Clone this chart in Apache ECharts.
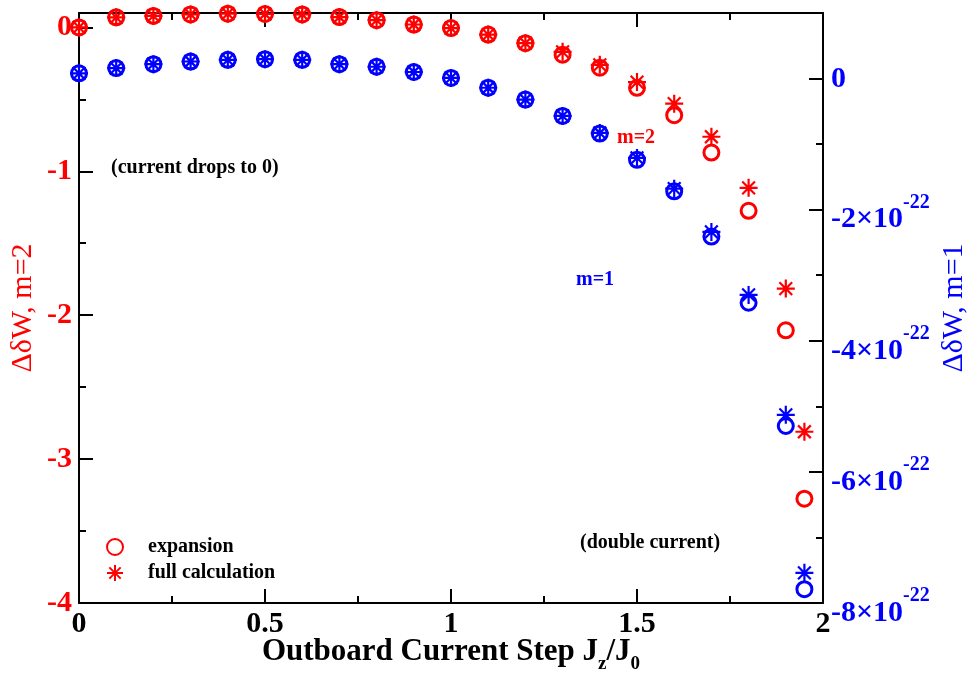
<!DOCTYPE html>
<html>
<head>
<meta charset="utf-8">
<script src="https://cdn.jsdelivr.net/npm/echarts@6/dist/echarts.min.js"></script>
<style>html,body{margin:0;padding:0;background:#fff;}#c{width:969px;height:673px;}</style>
</head>
<body>
<div id="c"></div>
<script>
// Outboard current step Jz/J0
var xSteps = [0, 0.1, 0.2, 0.3, 0.4, 0.5, 0.6, 0.7, 0.8, 0.9, 1.0, 1.1, 1.2, 1.3, 1.4, 1.5, 1.6, 1.7, 1.8, 1.9, 1.95];
// m=2 (left axis)
var m2Expansion = [0.0, 0.07, 0.08, 0.09, 0.095, 0.093, 0.09, 0.072, 0.05, 0.02, -0.005, -0.05, -0.11, -0.19, -0.28, -0.42, -0.61, -0.87, -1.275, -2.105, -3.275];
var m2Full = [0.0, 0.07, 0.08, 0.09, 0.095, 0.093, 0.09, 0.072, 0.05, 0.02, -0.005, -0.05, -0.11, -0.17, -0.26, -0.38, -0.53, -0.76, -1.115, -1.815, -2.81];
// m=1 (right axis), in units of 1e-22
var m1Expansion = [0.08, 0.16, 0.22, 0.26, 0.285, 0.295, 0.285, 0.22, 0.18, 0.10, 0.01, -0.14, -0.32, -0.57, -0.84, -1.24, -1.72, -2.41, -3.42, -5.30, -7.79];
var m1Full = [0.08, 0.16, 0.22, 0.26, 0.285, 0.295, 0.285, 0.22, 0.18, 0.10, 0.01, -0.14, -0.32, -0.57, -0.83, -1.21, -1.68, -2.34, -3.30, -5.13, -7.54];
var xTickLabels = ['0', '0.5', '1', '1.5', '2'];

var F = '"Liberation Serif", "Times New Roman", serif';
var RED = '#ff0000', BLUE = '#0000ff';
var STAR = 'path://M8,0L8,16M0,8L16,8M2.34,2.34L13.66,13.66M13.66,2.34L2.34,13.66';

function pairs(ys) { return xSteps.map(function (x, i) { return [x, ys[i]]; }); }

var chart = echarts.init(document.getElementById('c'), null, {renderer: 'canvas'});
var axisLine = {show: true, onZero: false, lineStyle: {color: '#000', width: 2}};
var noLine = {show: false, onZero: false};
var option = {
  animation: false,
  backgroundColor: '#fff',
  grid: {left: 79, right: 146, top: 13, bottom: 70, containLabel: false, outerBoundsMode: 'none'},
  legend: {
    data: ['expansion', 'full calculation'],
    orient: 'vertical', left: 101, top: 532,
    itemWidth: 16, itemHeight: 16, itemGap: 6,
    textStyle: {fontFamily: F, fontWeight: 'bold', fontSize: 20, color: '#000', padding: [0, 0, 0, 20]}
  },
  xAxis: [{
    type: 'value', min: 0, max: 2, interval: 0.5, position: 'bottom',
    axisLine: axisLine,
    axisTick: {inside: true, length: 14, lineStyle: {color: '#000', width: 2}},
    minorTick: {show: true, splitNumber: 2, length: 7, lineStyle: {color: '#000', width: 2}},
    splitLine: {show: false},
    axisLabel: {margin: 6, fontFamily: F, fontWeight: 'bold', fontSize: 30, color: '#000',
      formatter: function (v) { return xTickLabels[Math.round(v / 0.5)]; }},
    name: '{t|Outboard Current Step J}{s|z}{t|/J}{s|0}',
    nameLocation: 'middle', nameGap: 33, nameMoveOverlap: false,
    nameTextStyle: {rich: {
      t: {fontFamily: F, fontWeight: 'bold', fontSize: 31, lineHeight: 31, color: '#000', verticalAlign: 'top'},
      s: {fontFamily: F, fontWeight: 'bold', fontSize: 19, lineHeight: 19, color: '#000', verticalAlign: 'top', padding: [19, 0, 0, 0]}
    }}
  }, {
    type: 'value', min: 0, max: 2, interval: 0.5, position: 'top',
    axisLine: axisLine,
    axisTick: {inside: true, length: 14, lineStyle: {color: '#000', width: 2}},
    minorTick: {show: true, splitNumber: 2, length: 7, lineStyle: {color: '#000', width: 2}},
    splitLine: {show: false}, axisLabel: {show: false}
  }],
  yAxis: [{
    type: 'value', min: -4, max: 0.1, interval: 1, position: 'left',
    axisLine: axisLine,
    axisTick: {inside: true, length: 14, lineStyle: {color: '#000', width: 2}},
    splitLine: {show: false},
    axisLabel: {margin: 7, showMaxLabel: false, fontFamily: F, fontWeight: 'bold', fontSize: 30, color: RED,
      formatter: function (v) { return String(Math.round(v)); }},
    name: 'ΔδW, m=2', nameLocation: 'middle', nameRotate: 90, nameGap: 41, nameMoveOverlap: false,
    nameTextStyle: {fontFamily: F, fontSize: 30, color: RED}
  }, {
    type: 'value', min: -8, max: 1, interval: 2, position: 'right',
    axisLine: axisLine,
    axisTick: {inside: true, length: 14, lineStyle: {color: '#000', width: 2}},
    splitLine: {show: false},
    axisLabel: {margin: 8, showMaxLabel: false, color: BLUE, padding: [0, 0, 8, 0],
      formatter: function (v) {
        var n = Math.round(v);
        if (n === 0) return '{z|0}';
        return '{m|' + n + '×10}{p|-22}';
      },
      rich: {
        z: {fontFamily: F, fontWeight: 'bold', fontSize: 30, lineHeight: 30, color: BLUE, padding: [10, 0, 0, 0]},
        m: {fontFamily: F, fontWeight: 'bold', fontSize: 30, lineHeight: 30, color: BLUE, verticalAlign: 'top', padding: [14, 0, 0, 0]},
        p: {fontFamily: F, fontWeight: 'bold', fontSize: 20, lineHeight: 20, color: BLUE, verticalAlign: 'top', padding: [2, 0, 0, 0]}
      }},
    name: 'ΔδW, m=1', nameLocation: 'middle', nameRotate: 90, nameGap: 116, nameMoveOverlap: false,
    nameTextStyle: {fontFamily: F, fontSize: 30, color: BLUE}
  }, {
    type: 'value', min: -4, max: 0.1, interval: 0.5, position: 'left',
    axisLine: noLine, axisLabel: {show: false}, splitLine: {show: false},
    axisTick: {inside: true, length: 7, lineStyle: {color: '#000', width: 2}}
  }, {
    type: 'value', min: -8, max: 1, interval: 1, position: 'right',
    axisLine: noLine, axisLabel: {show: false}, splitLine: {show: false},
    axisTick: {inside: true, length: 7, lineStyle: {color: '#000', width: 2}}
  }],
  series: [{
    name: 'm=1 expansion', type: 'scatter', yAxisIndex: 1, data: pairs(m1Expansion),
    symbol: 'circle', symbolSize: 15,
    itemStyle: {color: 'transparent', borderColor: BLUE, borderWidth: 3, opacity: 1}
  }, {
    name: 'm=1 full calculation', type: 'scatter', yAxisIndex: 1, data: pairs(m1Full),
    symbol: STAR, symbolSize: 18,
    itemStyle: {color: 'transparent', borderColor: BLUE, borderWidth: 2.2, opacity: 1}
  }, {
    name: 'expansion', type: 'scatter', yAxisIndex: 0, data: pairs(m2Expansion),
    symbol: 'circle', symbolSize: 15,
    itemStyle: {color: 'transparent', borderColor: RED, borderWidth: 3, opacity: 1}
  }, {
    name: 'full calculation', type: 'scatter', yAxisIndex: 0, data: pairs(m2Full),
    symbol: STAR, symbolSize: 18,
    itemStyle: {color: 'transparent', borderColor: RED, borderWidth: 2.2, opacity: 1}
  }],
  graphic: [
    {type: 'text', left: 111, top: 158, style: {text: '(current drops to 0)', font: 'bold 20px ' + F, fill: '#000'}},
    {type: 'text', left: 617, top: 128, style: {text: 'm=2', font: 'bold 20px ' + F, fill: RED}},
    {type: 'text', left: 576, top: 270, style: {text: 'm=1', font: 'bold 20px ' + F, fill: BLUE}},
    {type: 'text', left: 580, top: 533, style: {text: '(double current)', font: 'bold 20px ' + F, fill: '#000'}}
  ]
};
chart.setOption(option);
</script>
</body>
</html>
